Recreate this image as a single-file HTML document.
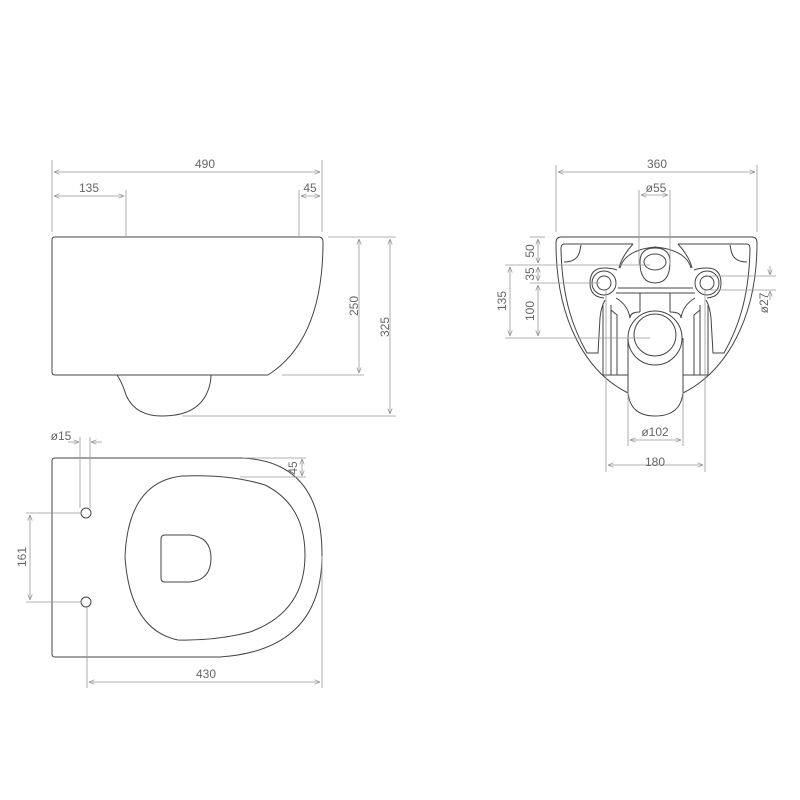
<!DOCTYPE html>
<html><head><style>
html,body{margin:0;padding:0;background:#fff}
svg{display:block}
text{font-family:"Liberation Sans",sans-serif;font-size:12px;fill:#666;text-anchor:middle}
.o{fill:none;stroke:#444;stroke-width:1}
.d{fill:none;stroke:#999;stroke-width:0.8}
</style></head><body>
<svg width="800" height="800" viewBox="0 0 800 800">
<defs>
<marker id="a" viewBox="0 0 10 10" refX="10" refY="5" markerWidth="7" markerHeight="7" orient="auto-start-reverse"><path d="M0,1 L10,5 L0,9" fill="none" stroke="#888" stroke-width="1.2"/></marker>
</defs>

<!-- SIDE VIEW -->
<path class="o" d="M55,237 L319,237 Q323,237 323,242 Q323,340 268,375 L55,375 Q52,375 52,372 L52,240 Q52,237 55,237 Z"/>
<path class="o" d="M117,375 Q122,382 126,395 Q135,416 162,416 Q195,416 206,395 Q211,385 211,375"/>
<g class="d">
<line x1="52" y1="160" x2="52" y2="232"/><line x1="126" y1="190" x2="126" y2="237"/>
<line x1="299" y1="190" x2="299" y2="237"/><line x1="322" y1="160" x2="322" y2="232"/>
<line x1="54" y1="172" x2="320" y2="172" marker-start="url(#a)" marker-end="url(#a)"/>
<line x1="54" y1="196" x2="124" y2="196" marker-start="url(#a)" marker-end="url(#a)"/>
<line x1="301" y1="196" x2="320" y2="196" marker-start="url(#a)" marker-end="url(#a)"/>
<line x1="328" y1="237" x2="396" y2="237"/><line x1="282" y1="375" x2="364" y2="375"/>
<line x1="182" y1="416" x2="396" y2="416"/>
<line x1="359" y1="239" x2="359" y2="373" marker-start="url(#a)" marker-end="url(#a)"/>
<line x1="390" y1="239" x2="390" y2="414" marker-start="url(#a)" marker-end="url(#a)"/>
</g>
<text x="205" y="168">490</text><text x="89" y="192">135</text><text x="310" y="192">45</text>
<text transform="translate(358,306) rotate(-90)">250</text>
<text transform="translate(389,327) rotate(-90)">325</text>

<!-- TOP VIEW -->
<path class="o" d="M55,458 L240,458 Q322,460 322,555 Q322,650 220,657 L55,657 Q52,657 52,654 L52,461 Q52,458 55,458 Z"/>
<path class="o" d="M182,476 Q230,474 265,485 Q305,505 305,555 Q305,612 250,632 Q215,641 178,640 Q130,630 125,557 Q128,482 182,476 Z"/>
<path class="o" d="M165,535 L190,535 Q211,537 211,558 Q211,580 190,582 L165,582 Q161,582 161,578 L161,539 Q161,535 165,535 Z"/>
<circle class="o" cx="86" cy="513" r="5"/><circle class="o" cx="86" cy="602" r="5"/>
<g class="d">
<line x1="80" y1="437" x2="80" y2="508"/><line x1="90" y1="437" x2="90" y2="508"/>
<line x1="68" y1="442" x2="79" y2="442" marker-end="url(#a)"/><line x1="102" y1="442" x2="91" y2="442" marker-end="url(#a)"/>
<line x1="243" y1="458" x2="306" y2="458"/><line x1="240" y1="477" x2="306" y2="477"/>
<line x1="302" y1="459" x2="302" y2="476" marker-start="url(#a)" marker-end="url(#a)"/>
<line x1="26" y1="513" x2="80" y2="513"/><line x1="26" y1="602" x2="80" y2="602"/>
<line x1="30" y1="515" x2="30" y2="600" marker-start="url(#a)" marker-end="url(#a)"/>
<line x1="87" y1="607" x2="87" y2="688"/><line x1="322" y1="556" x2="322" y2="688"/>
<line x1="89" y1="682" x2="320" y2="682" marker-start="url(#a)" marker-end="url(#a)"/>
</g>
<text x="61" y="440">ø15</text>
<text transform="translate(297,468) rotate(-90)">45</text>
<text transform="translate(26,557) rotate(-90)">161</text>
<text x="206" y="678">430</text>

<!-- FRONT VIEW -->
<path class="o" d="M561,237 L752,237 Q757,237 757,243 C757,320 725,372 683,393 M628,393 C586,372 556,320 556,243 Q556,237 561,237"/>
<path class="o" d="M603,375 L628,375 M683,375 L708,375"/>
<!-- inner outline left -->
<path class="o" d="M633,244 L564,244 Q561,244 561,249 C562,300 574,330 587,353 L598,353 L600,318 Q601,307 605,300"/>
<path class="o" d="M678,244 L747,244 Q750,244 750,249 C749,300 737,330 724,353 L713,353 L711,318 Q710,307 706,300"/>
<!-- corner pockets -->
<path class="o" d="M564,262 Q578,262 580,250 L581,245"/>
<path class="o" d="M747,262 Q733,262 731,250 L730,245"/>
<!-- arch connecting -->
<path class="o" d="M633,244 Q622,256 619,268"/>
<path class="o" d="M678,244 Q689,256 692,268"/>
<path class="o" d="M620,268 Q625,250 655,247 Q686,250 691,268"/>
<path class="o" d="M590,283 Q590,268 604,268 Q612,268 617,270 M590,283 Q590,297 604,298"/>
<path class="o" d="M721,283 Q721,268 707,268 Q699,268 694,270 M721,283 Q721,297 707,298"/>
<circle class="o" cx="604" cy="283" r="7"/><circle class="o" cx="604" cy="283" r="12"/>
<circle class="o" cx="707" cy="283" r="7"/><circle class="o" cx="707" cy="283" r="12"/>
<line class="o" x1="618" y1="288" x2="693" y2="288"/>
<line class="o" x1="616" y1="293" x2="695" y2="293"/>
<ellipse class="o" cx="655" cy="262" rx="11" ry="8"/>
<path class="o" d="M640,262 Q640,283 655,283 Q670,283 670,262 Q670,248 655,248 Q640,248 640,262"/>
<line class="o" x1="640" y1="293" x2="640" y2="312"/><line class="o" x1="670" y1="293" x2="670" y2="312"/>
<path class="o" d="M616,298 Q628,305 630,318 Q630,312 640,312 M695,298 Q683,305 681,318 Q681,312 670,312"/>
<circle class="o" cx="655" cy="338" r="27"/>
<ellipse class="o" cx="655" cy="335" rx="21" ry="21"/>
<path class="o" d="M628,338 L628,392 Q630,416 655,416 Q681,416 683,392 L683,338"/>
<path class="o" d="M603,305 L603,375 M611,305 L611,375 M708,305 L708,375 M700,305 L700,375"/>
<path class="o" d="M611,310 L617,315 L617,375 M700,310 L694,315 L694,375"/>
<g class="d">
<line x1="556" y1="165" x2="556" y2="232"/><line x1="757" y1="165" x2="757" y2="232"/>
<line x1="558" y1="172" x2="755" y2="172" marker-start="url(#a)" marker-end="url(#a)"/>
<line x1="639" y1="190" x2="639" y2="265"/><line x1="670" y1="190" x2="670" y2="265"/>
<line x1="641" y1="195" x2="668" y2="195" marker-start="url(#a)" marker-end="url(#a)"/>
<line x1="530" y1="237" x2="545" y2="237"/>
<line x1="505" y1="265" x2="650" y2="265"/><line x1="530" y1="283" x2="600" y2="283"/>
<line x1="505" y1="338" x2="650" y2="338"/>
<line x1="538" y1="239" x2="538" y2="263" marker-start="url(#a)" marker-end="url(#a)"/>
<line x1="538" y1="267" x2="538" y2="281" marker-start="url(#a)" marker-end="url(#a)"/>
<line x1="538" y1="285" x2="538" y2="336" marker-start="url(#a)" marker-end="url(#a)"/>
<line x1="510" y1="267" x2="510" y2="336" marker-start="url(#a)" marker-end="url(#a)"/>
<line x1="710" y1="276" x2="776" y2="276"/><line x1="710" y1="290" x2="776" y2="290"/>
<line x1="770" y1="266" x2="770" y2="275" marker-end="url(#a)"/>
<line x1="770" y1="300" x2="770" y2="291" marker-end="url(#a)"/>
<line x1="606" y1="290" x2="606" y2="472"/><line x1="705" y1="290" x2="705" y2="472"/>
<line x1="628" y1="392" x2="628" y2="446"/><line x1="683" y1="392" x2="683" y2="446"/>
<line x1="630" y1="440" x2="681" y2="440" marker-start="url(#a)" marker-end="url(#a)"/>
<line x1="608" y1="465" x2="703" y2="465" marker-start="url(#a)" marker-end="url(#a)"/>
</g>
<text x="657" y="168">360</text><text x="656" y="192">ø55</text>
<text transform="translate(534,251) rotate(-90)">50</text>
<text transform="translate(534,274) rotate(-90)">35</text>
<text transform="translate(534,311) rotate(-90)">100</text>
<text transform="translate(506,301) rotate(-90)">135</text>
<text transform="translate(768,303) rotate(-90)">ø27</text>
<text x="655" y="436">ø102</text><text x="655" y="466">180</text>
</svg>
</body></html>
